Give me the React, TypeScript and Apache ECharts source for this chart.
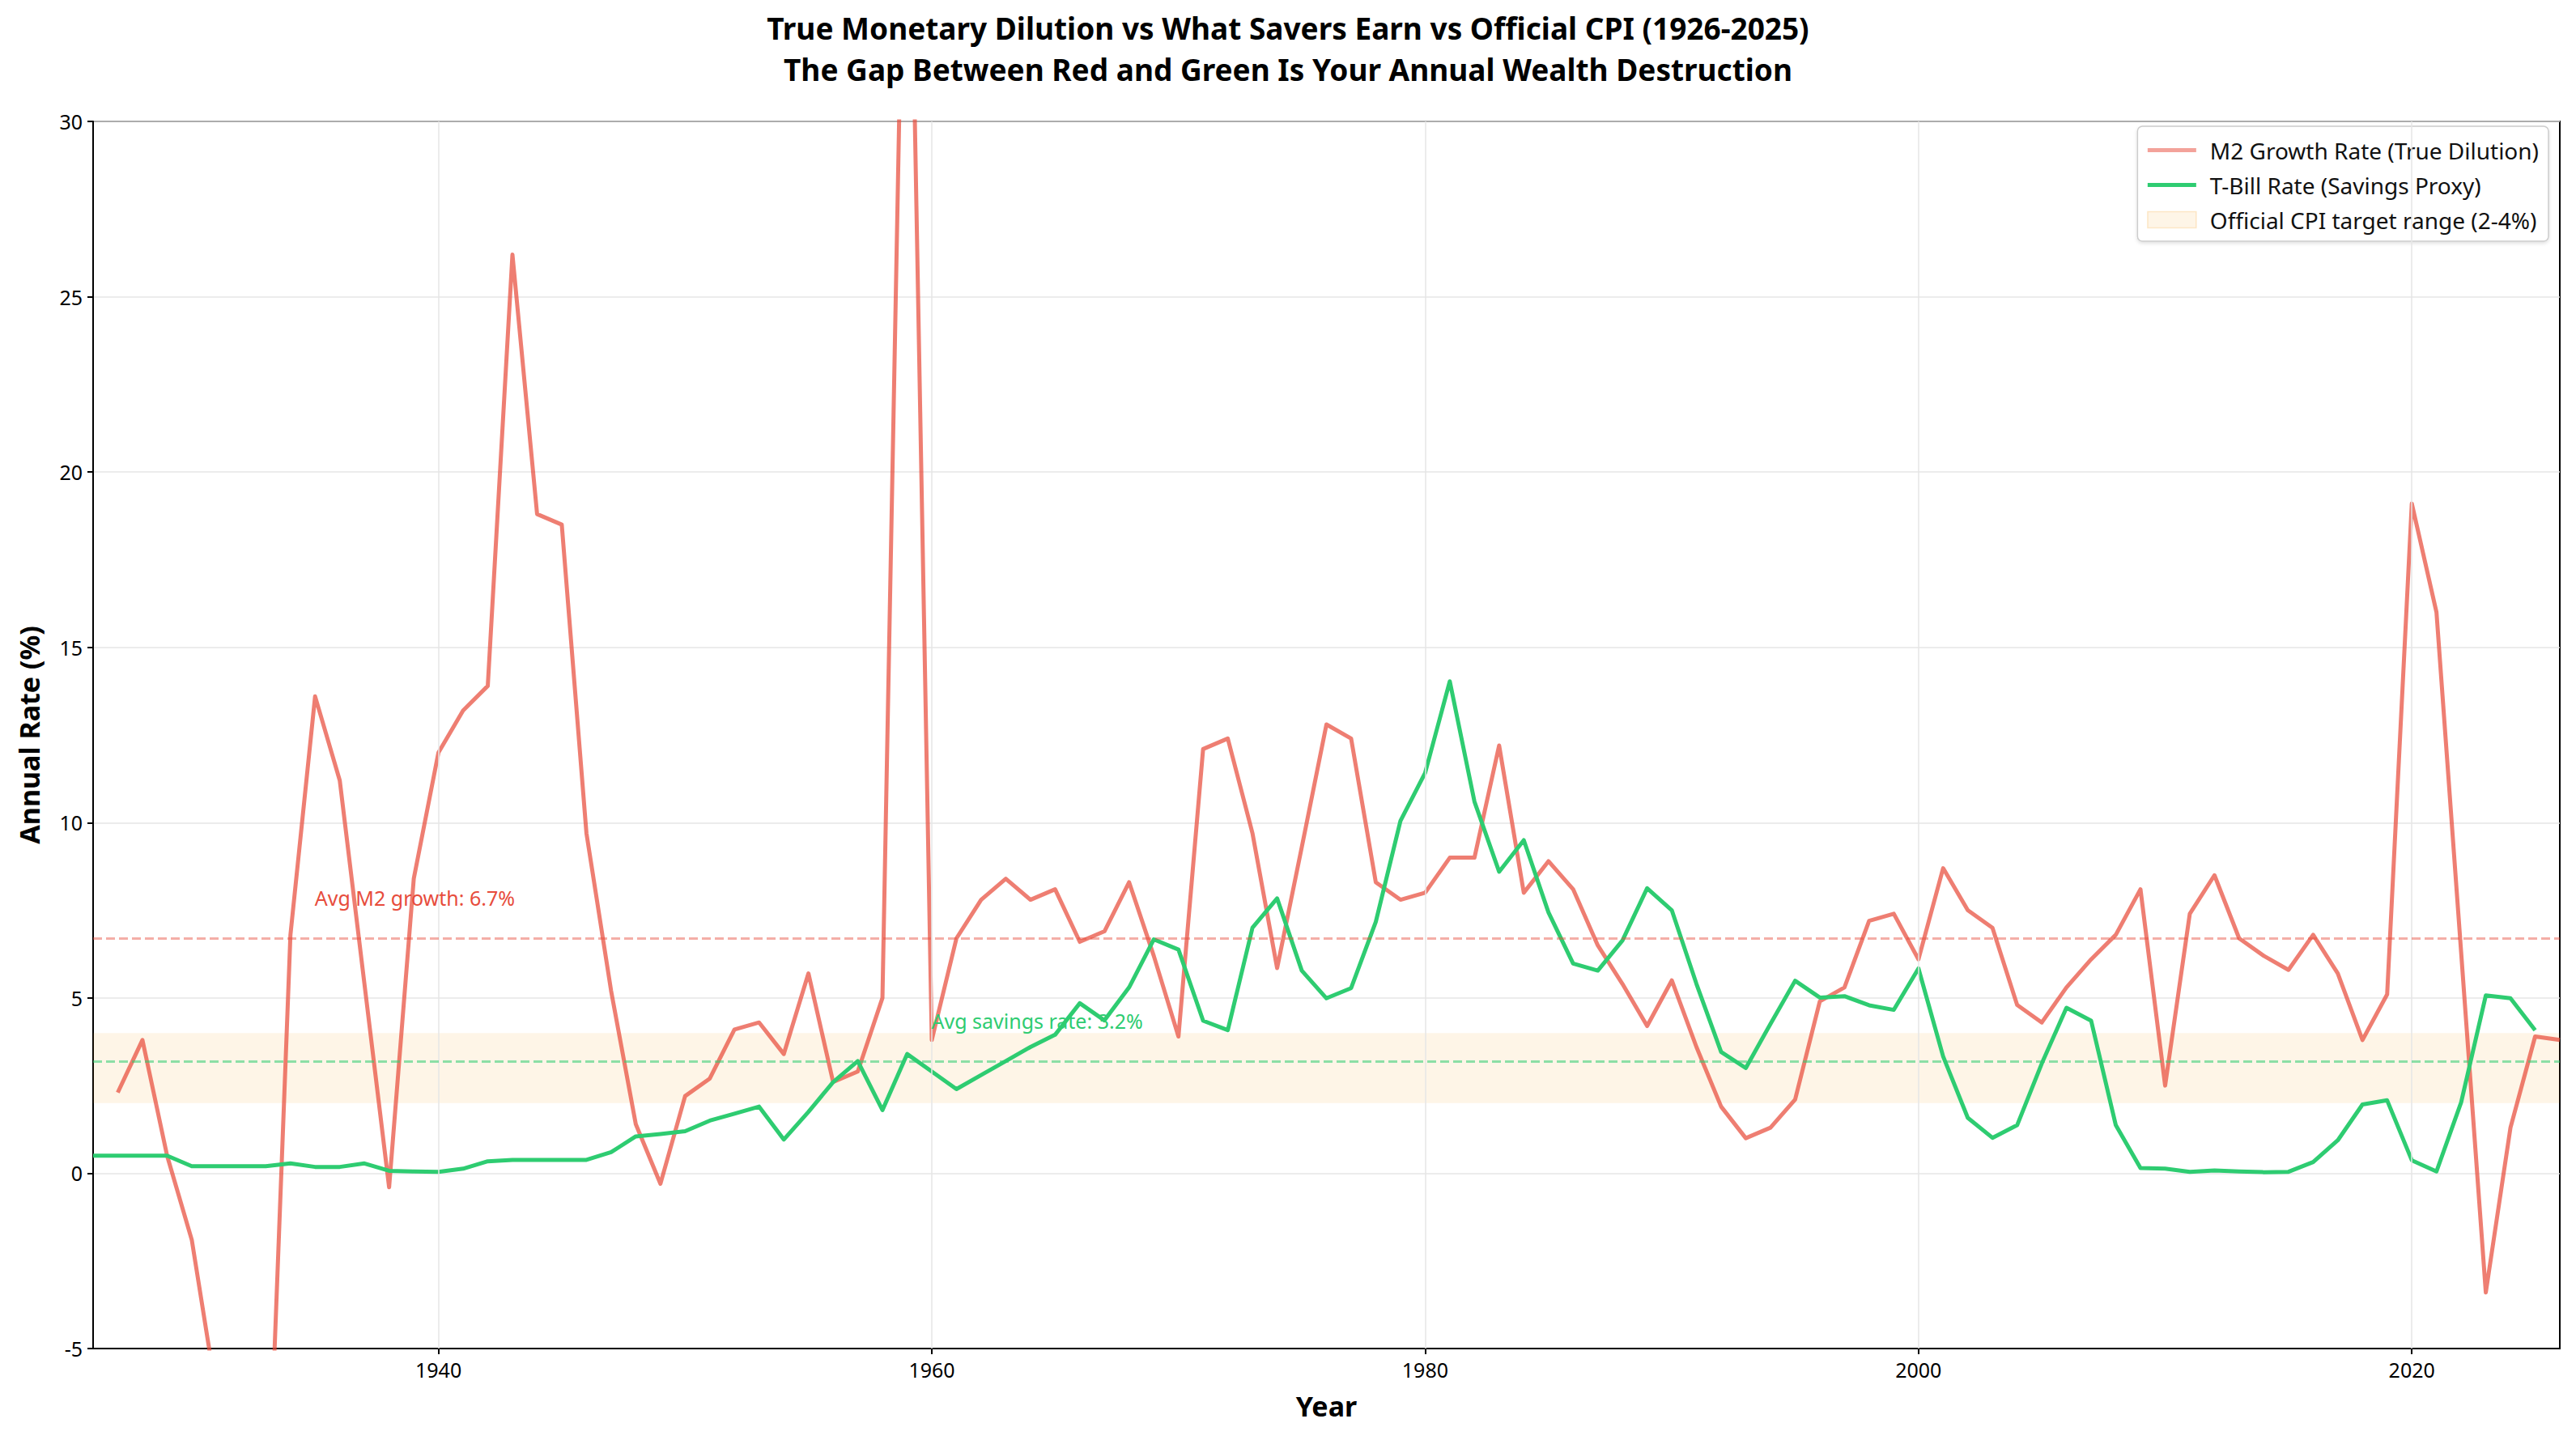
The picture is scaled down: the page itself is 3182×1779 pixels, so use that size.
import React, { useEffect, useRef } from "react";
import * as echarts from "echarts";

// ---- Data ----
const M2_START_YEAR = 1927;
const m2Growth = [
  2.3, 3.8, 0.5, -1.9, -6.3, -13.0, -11.6, 6.8, 13.6, 11.2, // 1927-1936
  5.4, -0.4, 8.4, 12.0, 13.2, 13.9, 26.2, 18.8, 18.5, 9.7, // 1937-1946
  5.2, 1.4, -0.3, 2.2, 2.7, 4.1, 4.3, 3.4, 5.7, 2.6, // 1947-1956
  2.9, 5.0, 42.0, 3.8, 6.7, 7.8, 8.4, 7.8, 8.1, 6.6, // 1957-1966
  6.9, 8.3, 6.2, 3.9, 12.1, 12.4, 9.7, 5.85, 9.3, 12.8, // 1967-1976
  12.4, 8.3, 7.8, 8.0, 9.0, 9.0, 12.2, 8.0, 8.9, 8.1, // 1977-1986
  6.5, 5.4, 4.2, 5.5, 3.6, 1.9, 1.0, 1.3, 2.1, 4.9, // 1987-1996
  5.3, 7.2, 7.4, 6.1, 8.7, 7.5, 7.0, 4.8, 4.3, 5.3, // 1997-2006
  6.1, 6.8, 8.1, 2.5, 7.4, 8.5, 6.7, 6.2, 5.8, 6.8, // 2007-2016
  5.7, 3.8, 5.1, 19.1, 16.0, 6.3, -3.4, 1.3, 3.9, 3.8, // 2017-2026
];

const TBILL_START_YEAR = 1926;
const tbillRate = [
  0.5, 0.5, 0.5, 0.5, 0.2, 0.2, 0.2, 0.2, 0.28, 0.18, // 1926-1935
  0.18, 0.28, 0.07, 0.05, 0.04, 0.13, 0.34, 0.38, 0.38, 0.38, // 1936-1945
  0.38, 0.6, 1.05, 1.12, 1.2, 1.5, 1.7, 1.9, 0.96, 1.75, // 1946-1955
  2.6, 3.2, 1.8, 3.4, 2.9, 2.4, 2.8, 3.2, 3.6, 3.95, // 1956-1965
  4.85, 4.36, 5.3, 6.67, 6.38, 4.35, 4.08, 7.0, 7.84, 5.78, // 1966-1975
  4.99, 5.28, 7.17, 10.05, 11.42, 14.03, 10.6, 8.6, 9.5, 7.44, // 1976-1985
  5.98, 5.78, 6.64, 8.13, 7.5, 5.4, 3.46, 3.0, 4.26, 5.49, // 1986-1995
  5.01, 5.05, 4.79, 4.66, 5.84, 3.33, 1.58, 1.01, 1.37, 3.13, // 1996-2005
  4.72, 4.35, 1.37, 0.15, 0.13, 0.04, 0.08, 0.05, 0.03, 0.04, // 2006-2015
  0.32, 0.94, 1.96, 2.08, 0.37, 0.05, 2.02, 5.07, 4.99, 4.08, // 2016-2025
];

const avgM2 = [6.7];
const avgSavings = [3.2];
const cpiBand = [2, 4];
const xTickYears = [1940, 1960, 1980, 2000, 2020];
const xRange = [1926, 2026];
const yRange = [-5, 30];

const TITLE_LINE_1 = "True Monetary Dilution vs What Savers Earn vs Official CPI (1926-2025)";
const TITLE_LINE_2 = "The Gap Between Red and Green Is Your Annual Wealth Destruction";

const NAME_M2 = "M2 Growth Rate (True Dilution)";
const NAME_TB = "T-Bill Rate (Savings Proxy)";
const NAME_BAND = "Official CPI target range (2-4%)";

const RED = "#e74c3c";
const GREEN = "#2ecc71";
const FONT = "Noto Sans";

export default function App() {
  const ref = useRef<HTMLDivElement>(null);

  useEffect(() => {
    if (!ref.current) return;
    const chart = echarts.init(ref.current, null, { renderer: "svg" });

    const m2Data = m2Growth.map((v, i) => [M2_START_YEAR + i, v]);
    const tbData = tbillRate.map((v, i) => [TBILL_START_YEAR + i, v]);

    const hiddenSymbol = { color: "transparent", borderColor: "transparent", opacity: 0 };
    const titleStyle = {
      fontFamily: FONT,
      fontSize: 37,
      fontWeight: "bold",
      color: "#000",
      lineHeight: 44,
    };

    const option: any = {
      animation: false,
      backgroundColor: "#ffffff",
      textStyle: { fontFamily: FONT },
      title: [
        { text: TITLE_LINE_1, left: "center", top: 7, padding: 5, textStyle: titleStyle },
        { text: TITLE_LINE_2, left: "center", top: 58, padding: 5, textStyle: titleStyle },
      ],
      grid: {
        left: 115,
        right: 20,
        top: 150,
        bottom: 113,
        show: true,
        borderColor: "#000",
        borderWidth: 2,
        backgroundColor: "transparent",
      },
      legend: {
        orient: "vertical",
        right: 34,
        top: 156,
        padding: [13, 12, 10, 10],
        itemGap: 10,
        itemWidth: 60,
        itemHeight: 20,
        backgroundColor: "#ffffff",
        borderColor: "#cccccc",
        borderWidth: 1.5,
        borderRadius: 6,
        shadowBlur: 4,
        shadowColor: "rgba(0,0,0,0.12)",
        shadowOffsetY: 2,
        textStyle: {
          fontFamily: FONT,
          fontSize: 28,
          color: "#111",
          lineHeight: 33,
          padding: [0, 0, 0, 12],
        },
        data: [
          {
            name: NAME_M2,
            itemStyle: hiddenSymbol,
            lineStyle: { width: 5, color: "rgba(231,76,60,0.72)" },
          },
          {
            name: NAME_TB,
            itemStyle: hiddenSymbol,
            lineStyle: { width: 5, color: GREEN },
          },
          {
            name: NAME_BAND,
            icon: "rect",
            itemStyle: {
              color: "rgba(243,156,18,0.1)",
              borderColor: "rgba(243,156,18,0.2)",
              borderWidth: 1.5,
            },
          },
        ],
      },
      xAxis: {
        type: "value",
        min: xRange[0],
        max: xRange[1],
        name: "Year",
        nameLocation: "middle",
        nameGap: 54,
        nameTextStyle: { fontFamily: FONT, fontSize: 34, fontWeight: "bold", color: "#000" },
        axisLine: { show: true, onZero: false, lineStyle: { color: "#000", width: 2 } },
        axisTick: {
          show: true,
          length: 7,
          lineStyle: { color: "#000", width: 2 },
          customValues: xTickYears,
        },
        axisLabel: {
          fontFamily: FONT,
          fontSize: 25,
          color: "#000",
          margin: 13,
          customValues: xTickYears,
          formatter: (v: number) => String(v),
        },
        splitLine: { show: false },
      },
      yAxis: {
        type: "value",
        min: yRange[0],
        max: yRange[1],
        interval: 5,
        name: "Annual Rate (%)",
        nameLocation: "middle",
        nameGap: 62,
        nameRotate: 90,
        nameTextStyle: { fontFamily: FONT, fontSize: 34, fontWeight: "bold", color: "#000" },
        axisLine: { show: true, onZero: false, lineStyle: { color: "#000", width: 2 } },
        axisTick: { show: true, length: 7, lineStyle: { color: "#000", width: 2 } },
        axisLabel: { fontFamily: FONT, fontSize: 25, color: "#000", margin: 13 },
        splitLine: { show: true, lineStyle: { color: "#e6e6e6", width: 1.5 } },
      },
      series: [
        {
          name: NAME_BAND,
          type: "line",
          data: [],
          z: 1,
          color: "rgba(243,156,18,0.1)",
          silent: true,
          markArea: {
            silent: true,
            itemStyle: { color: "rgba(243,156,18,0.1)" },
            data: [[{ yAxis: cpiBand[0] }, { yAxis: cpiBand[1] }]],
          },
          markLine: {
            silent: true,
            symbol: "none",
            label: { show: false },
            lineStyle: { color: "#e6e6e6", type: "solid", width: 1.5 },
            data: xTickYears.map((y) => ({ xAxis: y })),
          },
        },
        {
          name: NAME_M2,
          type: "line",
          data: m2Data,
          z: 3,
          color: RED,
          showSymbol: false,
          symbol: "none",
          clip: true,
          lineStyle: { color: RED, width: 5, opacity: 0.72, join: "round" },
          markLine: {
            silent: true,
            symbol: "none",
            label: { show: false },
            lineStyle: { color: RED, type: [11, 5], width: 3, opacity: 0.45 },
            data: [{ yAxis: avgM2[0] }],
          },
          markPoint: {
            silent: true,
            symbol: "circle",
            symbolSize: 1,
            itemStyle: { color: "transparent" },
            label: {
              show: true,
              position: [0, 6],
              align: "left",
              verticalAlign: "bottom",
              fontFamily: FONT,
              fontSize: 25,
              color: RED,
              formatter: "Avg M2 growth: " + avgM2[0].toFixed(1) + "%",
            },
            data: [{ coord: [1935, avgM2[0] + 1] }],
          },
        },
        {
          name: NAME_TB,
          type: "line",
          data: tbData,
          z: 4,
          color: GREEN,
          showSymbol: false,
          symbol: "none",
          clip: true,
          lineStyle: { color: GREEN, width: 5, join: "round" },
          markLine: {
            silent: true,
            symbol: "none",
            label: { show: false },
            lineStyle: { color: GREEN, type: [11, 5], width: 3, opacity: 0.55 },
            data: [{ yAxis: avgSavings[0] }],
          },
          markPoint: {
            silent: true,
            symbol: "circle",
            symbolSize: 1,
            itemStyle: { color: "transparent" },
            label: {
              show: true,
              position: [0, 6],
              align: "left",
              verticalAlign: "bottom",
              fontFamily: FONT,
              fontSize: 25,
              color: GREEN,
              formatter: "Avg savings rate: " + avgSavings[0].toFixed(1) + "%",
            },
            data: [{ coord: [1960, avgSavings[0] + 1] }],
          },
        },
      ],
    };

    chart.setOption(option);
    return () => {
      chart.dispose();
    };
  }, []);

  return (
    <div
      ref={ref}
      style={{ position: "fixed", left: 0, top: 0, width: 3182, height: 1779, background: "#fff" }}
    />
  );
}
